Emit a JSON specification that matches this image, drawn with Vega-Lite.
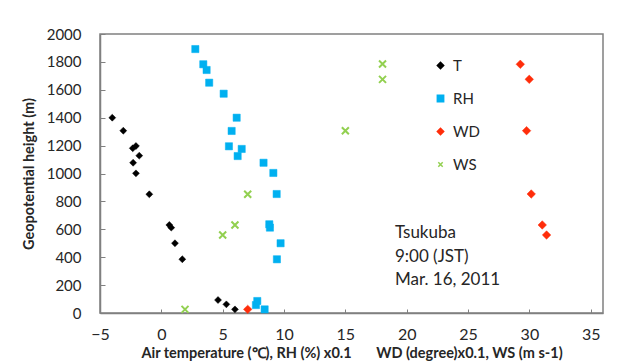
{
  "$schema": "https://vega.github.io/schema/vega-lite/v6.json",
  "width": 503,
  "height": 279,
  "autosize": {"type": "none"},
  "padding": {"left": 100, "top": 34, "right": 18, "bottom": 50},
  "background": "white",
  "view": {"stroke": "#808080", "strokeWidth": 1.5},
  "config": {
    "font": "Lato",
    "view": {"stroke": "#808080", "strokeWidth": 1.5},
    "axis": {
      "grid": false,
      "domainColor": "#808080",
      "domainWidth": 1.5,
      "tickColor": "#808080",
      "labelColor": "#262626",
      "titleColor": "#262626",
      "labelFont": "Lato",
      "titleFont": "Lato"
    },
    "legend": {
      "orient": "none", "legendX": 333, "legendY": 24, "title": null,
      "labelFontSize": 15, "labelColor": "#262626", "labelFont": "Lato",
      "rowPadding": 17, "labelOffset": 5, "padding": 0, "symbolSize": 40, "symbolStrokeWidth": 1.5
    }
  },
  "datasets": {
    "pts": [
      {"series": "T", "x": -4.0, "h": 1400},
      {"series": "T", "x": -3.1, "h": 1307},
      {"series": "T", "x": -2.33, "h": 1181},
      {"series": "T", "x": -2.07, "h": 1197},
      {"series": "T", "x": -1.8, "h": 1128},
      {"series": "T", "x": -2.3, "h": 1077},
      {"series": "T", "x": -2.07, "h": 1001},
      {"series": "T", "x": -0.98, "h": 851},
      {"series": "T", "x": 0.65, "h": 631},
      {"series": "T", "x": 0.81, "h": 612},
      {"series": "T", "x": 1.11, "h": 500},
      {"series": "T", "x": 1.71, "h": 385},
      {"series": "T", "x": 4.62, "h": 93},
      {"series": "T", "x": 5.3, "h": 62},
      {"series": "T", "x": 6.0, "h": 26},
      {"series": "RH", "x": 2.77, "h": 1892},
      {"series": "RH", "x": 3.42, "h": 1783},
      {"series": "RH", "x": 3.69, "h": 1742},
      {"series": "RH", "x": 3.9, "h": 1651},
      {"series": "RH", "x": 5.08, "h": 1572},
      {"series": "RH", "x": 6.14, "h": 1400},
      {"series": "RH", "x": 5.73, "h": 1305},
      {"series": "RH", "x": 5.51, "h": 1195},
      {"series": "RH", "x": 6.55, "h": 1176},
      {"series": "RH", "x": 6.22, "h": 1125},
      {"series": "RH", "x": 8.33, "h": 1077},
      {"series": "RH", "x": 9.13, "h": 1004},
      {"series": "RH", "x": 9.4, "h": 853},
      {"series": "RH", "x": 8.8, "h": 636},
      {"series": "RH", "x": 8.85, "h": 612},
      {"series": "RH", "x": 9.72, "h": 500},
      {"series": "RH", "x": 9.42, "h": 385},
      {"series": "RH", "x": 7.82, "h": 86},
      {"series": "RH", "x": 7.71, "h": 57},
      {"series": "RH", "x": 8.42, "h": 26},
      {"series": "WD", "x": 29.26, "h": 1783},
      {"series": "WD", "x": 29.99, "h": 1675},
      {"series": "WD", "x": 29.77, "h": 1307},
      {"series": "WD", "x": 30.15, "h": 853},
      {"series": "WD", "x": 31.05, "h": 631},
      {"series": "WD", "x": 31.4, "h": 559},
      {"series": "WD", "x": 7.04, "h": 26},
      {"series": "WS", "x": 1.93, "h": 26},
      {"series": "WS", "x": 5.0, "h": 559},
      {"series": "WS", "x": 6.0, "h": 631},
      {"series": "WS", "x": 7.04, "h": 851},
      {"series": "WS", "x": 15.0, "h": 1307},
      {"series": "WS", "x": 18.03, "h": 1675},
      {"series": "WS", "x": 18.03, "h": 1785}
    ],
    "notes": [
      {"label": "Tsukuba", "x": 19.04, "h": 573},
      {"label": "9:00 (JST)", "x": 19.04, "h": 401},
      {"label": "Mar. 16, 2011", "x": 19.04, "h": 237}
    ]
  },
  "encoding": {
    "x": {
      "field": "x", "type": "quantitative",
      "scale": {"domain": [-5, 36], "nice": false, "zero": false},
      "axis": {
        "values": [-5, 0, 5, 10, 15, 20, 25, 30, 35],
        "tickSize": -4,
        "labelPadding": 17,
        "labelFontSize": 16,
        "labelFlush": false,
        "labelOverlap": false,
        "title": "Air temperature (℃), RH (%) x0.1\u00a0\u00a0\u00a0\u00a0\u00a0\u00a0\u00a0WD (degree)x0.1, WS (m s-1)",
        "titleFontSize": 14.5,
        "titleFontWeight": "bold",
        "titlePadding": 4
      }
    },
    "y": {
      "field": "h", "type": "quantitative",
      "scale": {"domain": [0, 2000], "nice": false},
      "axis": {
        "values": [0, 200, 400, 600, 800, 1000, 1200, 1400, 1600, 1800, 2000],
        "format": "d",
        "labelOverlap": false,
        "labelFlush": false,
        "tickSize": -5,
        "labelPadding": 24,
        "labelFontSize": 15,
        "title": "Geopotential height (m)",
        "titleFontSize": 14.5,
        "titleFontWeight": "bold",
        "titlePadding": 10
      }
    }
  },
  "layer": [
    {
      "data": {"name": "pts"},
      "transform": [{"filter": "datum.series === 'T'"}],
      "mark": {"type": "point", "filled": true, "opacity": 1, "size": 48, "strokeWidth": 0.5},
      "encoding": {
        "color": {"field": "series", "type": "nominal",
          "scale": {"domain": ["T", "RH", "WD", "WS"], "range": ["#000000", "#00B0F0", "#FF2D0A", "#92D050"]}},
        "stroke": {"field": "series", "type": "nominal",
          "scale": {"domain": ["T", "RH", "WD", "WS"], "range": ["#000000", "#00B0F0", "#FF2D0A", "#92D050"]}},
        "shape": {"field": "series", "type": "nominal",
          "scale": {"domain": ["T", "RH", "WD", "WS"], "range": ["diamond", "square", "diamond", "M-0.7,-0.7L0.7,0.7M-0.7,0.7L0.7,-0.7"]}}
      }
    },
    {
      "data": {"name": "pts"},
      "transform": [{"filter": "datum.series === 'RH'"}],
      "mark": {"type": "point", "filled": true, "opacity": 1, "size": 52, "strokeWidth": 0.5},
      "encoding": {
        "color": {"field": "series", "type": "nominal"},
        "stroke": {"field": "series", "type": "nominal"},
        "shape": {"field": "series", "type": "nominal"}
      }
    },
    {
      "data": {"name": "pts"},
      "transform": [{"filter": "datum.series === 'WD'"}],
      "mark": {"type": "point", "filled": true, "opacity": 1, "size": 72, "strokeWidth": 0.5},
      "encoding": {
        "color": {"field": "series", "type": "nominal"},
        "stroke": {"field": "series", "type": "nominal"},
        "shape": {"field": "series", "type": "nominal"}
      }
    },
    {
      "data": {"name": "pts"},
      "transform": [{"filter": "datum.series === 'WS'"}],
      "mark": {"type": "point", "filled": false, "opacity": 1, "size": 100, "strokeWidth": 2},
      "encoding": {
        "color": {"field": "series", "type": "nominal"},
        "stroke": {"field": "series", "type": "nominal"},
        "shape": {"field": "series", "type": "nominal"}
      }
    },
    {
      "data": {"name": "notes"},
      "mark": {"type": "text", "align": "left", "baseline": "middle", "fontSize": 17, "font": "Lato", "color": "#262626"},
      "encoding": {
        "text": {"field": "label", "type": "nominal"}
      }
    }
  ]
}
